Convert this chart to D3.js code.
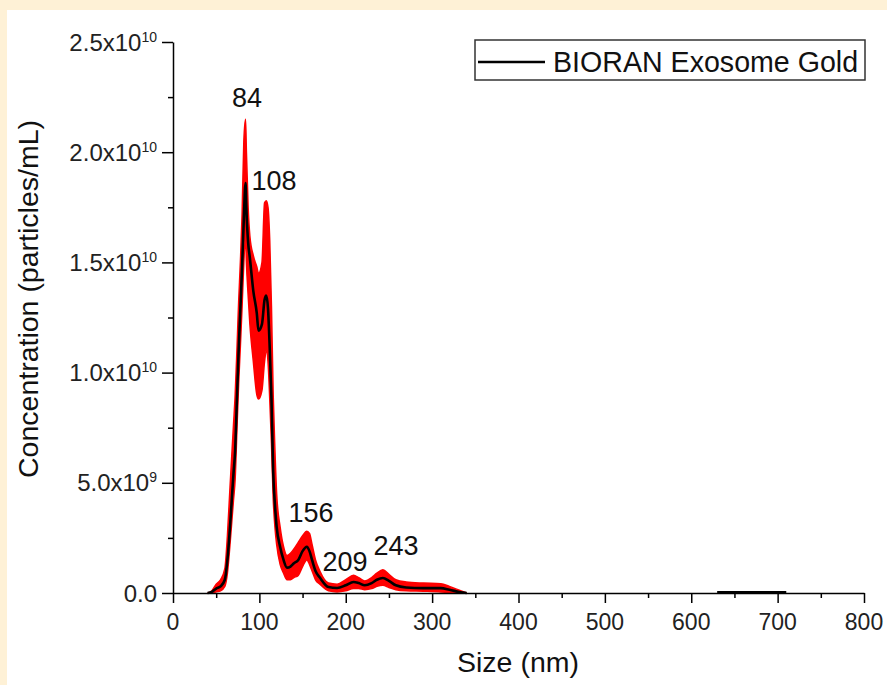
<!DOCTYPE html>
<html>
<head>
<meta charset="utf-8">
<script src="https://cdn.jsdelivr.net/npm/d3@7/dist/d3.min.js"></script>
<style>
  html, body { margin: 0; padding: 0; background: #fef1d6; }
  svg { display: block; }
  text { font-family: "Liberation Sans", Arial, sans-serif; }
</style>
</head>
<body>
<svg id="chart" width="887" height="685"></svg>
<script>
// ---- data (concentration in units of 1e9 particles/mL) ----
const sizes = [40,45,50,55,60,63,66,68,70,72,74,76,78,80,82,84,85,87,89,93,97,99,103,106,108,110,112,114,116,118,120,124,128,132,136,140,145,150,155,158,161,165,170,180,190,200,209,215,222,230,236,243,250,258,270,290,310,320,333,340];
const meanConc = [0,0.05,0.2,0.3,0.6,1.5,3.0,4.2,5.4,6.5,8.8,11.0,12.9,14.8,17.0,18.6,17.4,15.9,15.2,13.7,12.7,11.9,12.2,13.3,13.5,12.9,11.1,8.8,5.5,4.0,3.0,2.1,1.5,1.15,1.2,1.35,1.5,1.9,2.1,1.9,1.5,1.0,0.7,0.27,0.23,0.35,0.5,0.45,0.35,0.45,0.6,0.68,0.55,0.35,0.25,0.22,0.22,0.15,0.03,0];
const lowConc  = [0,0,0.05,0.1,0.3,0.9,2.2,3.2,4.2,5.2,7.4,9.5,11.2,13.0,15.0,16.2,15.0,13.5,12.2,10.5,9.0,8.8,9.2,10.5,11.0,10.5,8.8,6.8,4.3,3.0,2.2,1.3,0.9,0.6,0.6,0.7,0.8,1.2,1.5,1.3,1.0,0.6,0.4,0.1,0.05,0.1,0.2,0.2,0.15,0.2,0.3,0.35,0.25,0.15,0.1,0.08,0.05,0.02,0,0];
const highConc = [0,0.1,0.4,0.6,1.1,2.6,4.8,6.2,7.6,9.0,11.0,13.2,15.0,17.2,20.5,21.5,20.0,17.5,16.2,15.3,14.8,14.5,15.0,17.7,17.8,17.5,16.0,13.0,9.0,6.5,4.5,3.0,2.1,1.7,1.8,2.0,2.3,2.6,2.8,2.7,2.2,1.5,1.0,0.45,0.4,0.6,0.8,0.7,0.55,0.7,0.9,1.05,0.85,0.6,0.5,0.45,0.42,0.3,0.1,0];
const tailSizes = [630,650,670,690,710];
const tailConc  = [0.03,0.03,0.03,0.03,0.03];

const xTicks = [0,100,200,300,400,500,600,700,800];
const xMinorTicks = [50,150,250,350,450,550,650,750];
const yTicks = [0,5e9,1e10,1.5e10,2e10,2.5e10];
const yMinorTicks = [2.5e9,7.5e9,1.25e10,1.75e10,2.25e10];
const yTickBase = ["0.0","5.0x10","1.0x10","1.5x10","2.0x10","2.5x10"];
const yTickExp  = ["","9","10","10","10","10"];
const peakLabels = ["84","108","156","209","243"];
const legendLabel = "BIORAN Exosome Gold";

// ---- layout ----
const svg = d3.select("#chart");
svg.append("rect").attr("x",7).attr("y",10).attr("width",880).attr("height",675).attr("fill","#ffffff");

const x = d3.scaleLinear().domain([0,800]).range([173,864]);
const y = d3.scaleLinear().domain([0,2.5e10]).range([593,42]);

const pts = sizes.map((s,i)=>({s, m: meanConc[i]*1e9, lo: lowConc[i]*1e9, hi: highConc[i]*1e9}));
const tail = tailSizes.map((s,i)=>({s, m: tailConc[i]*1e9}));

const area = d3.area().x(d=>x(d.s)).y0(d=>y(d.lo)).y1(d=>y(d.hi)).curve(d3.curveMonotoneX);
const line = d3.line().x(d=>x(d.s)).y(d=>y(d.m)).curve(d3.curveMonotoneX);

svg.append("path").datum(pts).attr("d",area).attr("fill","#ff0000").attr("stroke","#ff0000").attr("stroke-width",1.5);
svg.append("path").datum(pts).attr("d",line).attr("fill","none").attr("stroke","#000").attr("stroke-width",2.6).attr("stroke-linejoin","round");
svg.append("path").datum(tail).attr("d",line).attr("fill","none").attr("stroke","#000").attr("stroke-width",2.6);

// axes
const gx = svg.append("g").attr("transform","translate(0,593)");
gx.call(d3.axisBottom(x).tickValues(xTicks).tickSize(10).tickSizeOuter(0).tickFormat(""));
gx.append("g").call(d3.axisBottom(x).tickValues(xMinorTicks).tickSize(5).tickSizeOuter(0).tickFormat("")).select(".domain").remove();
gx.selectAll("line,path").attr("stroke","#000").attr("stroke-width",1.5);

const gy = svg.append("g").attr("transform","translate(173,0)");
gy.call(d3.axisLeft(y).tickValues(yTicks).tickSize(11).tickSizeOuter(0).tickFormat(""));
gy.append("g").call(d3.axisLeft(y).tickValues(yMinorTicks).tickSize(5).tickSizeOuter(0).tickFormat("")).select(".domain").remove();
gy.selectAll("line,path").attr("stroke","#000").attr("stroke-width",1.5);

// x tick labels
svg.selectAll(".xl").data(xTicks).enter().append("text")
  .attr("x",d=>x(d)).attr("y",630).attr("text-anchor","middle")
  .attr("font-size",23).attr("fill","#222").text(d=>d);

// y tick labels with superscripts
yTicks.forEach((v,i)=>{
  const t = svg.append("text").attr("x",157).attr("y",y(v)+8.5).attr("text-anchor","end")
    .attr("font-size",24).attr("fill","#222");
  t.append("tspan").text(yTickBase[i]);
  if (yTickExp[i]) t.append("tspan").attr("dy",-9).attr("font-size",14).text(yTickExp[i]);
});

// axis titles
svg.append("text").attr("x",518).attr("y",672).attr("text-anchor","middle")
  .attr("font-size",28.5).attr("fill","#111").text("Size (nm)");
svg.append("text").attr("transform","translate(38,299) rotate(-90)").attr("text-anchor","middle")
  .attr("font-size",28.5).attr("fill","#111").text("Concentration (particles/mL)");

// peak labels
const peakPos = [[247,107],[274,190],[311,522],[345,571],[396,555]];
peakLabels.forEach((p,i)=>{
  svg.append("text").attr("x",peakPos[i][0]).attr("y",peakPos[i][1]).attr("text-anchor","middle")
    .attr("font-size",27).attr("fill","#111").text(p);
});

// legend
svg.append("rect").attr("x",475).attr("y",40).attr("width",390).attr("height",40)
  .attr("fill","#fff").attr("stroke","#333").attr("stroke-width",1.5);
svg.append("line").attr("x1",478).attr("x2",545).attr("y1",62).attr("y2",62)
  .attr("stroke","#000").attr("stroke-width",2.6);
svg.append("text").attr("x",553).attr("y",72).attr("font-size",28.6).attr("fill","#111").text(legendLabel);
</script>
</body>
</html>
